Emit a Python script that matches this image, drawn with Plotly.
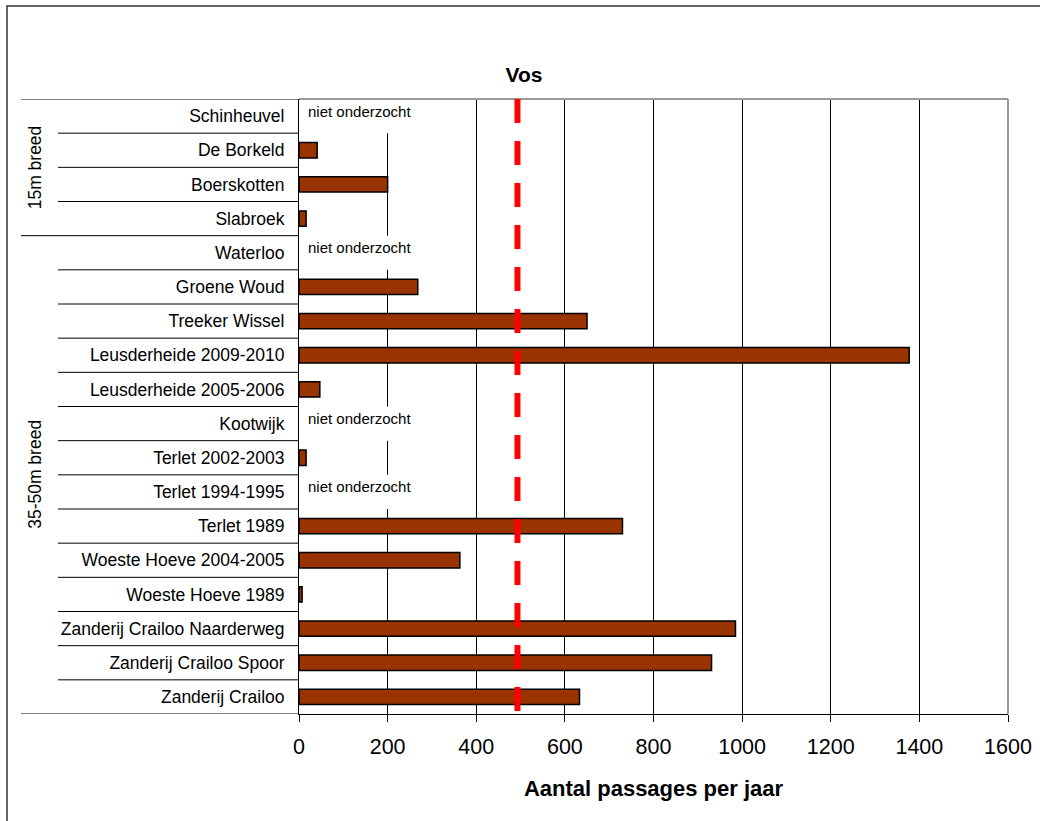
import plotly.graph_objects as go

categories = ["Schinheuvel", "De Borkeld", "Boerskotten", "Slabroek", "Waterloo",
              "Groene Woud", "Treeker Wissel", "Leusderheide 2009-2010",
              "Leusderheide 2005-2006", "Kootwijk", "Terlet 2002-2003",
              "Terlet 1994-1995", "Terlet 1989", "Woeste Hoeve 2004-2005",
              "Woeste Hoeve 1989", "Zanderij Crailoo Naarderweg",
              "Zanderij Crailoo Spoor", "Zanderij Crailoo"]
values = [None, 41, 200, 16, None, 268, 650, 1377, 47, None, 16, None, 730, 363, 7,
          985, 931, 633]
groups = ["15m breed"] * 4 + ["35-50m breed"] * 14
threshold = 493
missing_text = "niet onderzocht"
x_ticks = [0, 200, 400, 600, 800, 1000, 1200, 1400, 1600]

FONT = "Liberation Sans, Arial, sans-serif"
W, H = 1040, 821
ML, MR, MT, MB = 299, 32, 99, 107
PW, PH = W - ML - MR, H - MT - MB

def px_x(p):
    return (p - ML) / PW

def px_y(p):
    return (H - MB - p) / PH

n = len(categories)
fig = go.Figure()
fig.add_trace(go.Bar(
    y=categories, x=values, orientation="h", width=0.45,
    marker=dict(color="#993300", line=dict(color="#000000", width=1.5)),
    showlegend=False, hoverinfo="x+y",
))

shapes = []
annotations = []

# white boxes + labels for rows not studied
for i, (c, v) in enumerate(zip(categories, values)):
    if v is None:
        shapes.append(dict(type="rect", xref="x", yref="y", x0=1, x1=230,
                           y0=i - 0.5, y1=i + 0.5, fillcolor="white",
                           line=dict(width=0), layer="between"))
        annotations.append(dict(xref="x", yref="y", x=0, y=i, xanchor="left",
                                xshift=7, yshift=5, text=missing_text, showarrow=False,
                                font=dict(family=FONT, size=15, color="#000")))

# category separator lines in the label column
for i in range(n + 1):
    b = i - 0.5
    is_group = i == 0 or i == n or groups[i] != groups[i - 1]
    x0 = px_x(21) if is_group else px_x(58)
    shapes.append(dict(type="line", xref="paper", yref="y", x0=x0, x1=0,
                       y0=b, y1=b, line=dict(color="#000", width=1)))

# group labels
start = 0
for i in range(1, n + 1):
    if i == n or groups[i] != groups[start]:
        annotations.append(dict(xref="paper", yref="y", x=px_x(35),
                                y=(start + i - 1) / 2, text=groups[start],
                                xanchor="center", yanchor="middle",
                                textangle=-90, showarrow=False,
                                font=dict(family=FONT, size=17.5, color="#000")))
        start = i

# plot area top/right border (gray)
shapes.append(dict(type="line", xref="paper", yref="paper", x0=0, x1=1, y0=1, y1=1,
                   line=dict(color="#999999", width=2), layer="above"))
shapes.append(dict(type="line", xref="paper", yref="paper", x0=1, x1=1, y0=0, y1=1,
                   line=dict(color="#999999", width=2), layer="above"))

# threshold dashed red line
shapes.append(dict(type="line", xref="x", yref="paper", x0=threshold, x1=threshold,
                   y0=1, y1=0, line=dict(color="#FF0000", width=6, dash="24px,18px"),
                   layer="above"))

# outer frame
shapes.append(dict(type="rect", xref="paper", yref="paper",
                   x0=px_x(7), x1=px_x(1060), y0=px_y(840), y1=px_y(6),
                   line=dict(color="#333333", width=1.5), fillcolor="rgba(0,0,0,0)"))

fig.update_layout(
    width=W, height=H,
    margin=dict(l=ML, r=MR, t=MT, b=MB, autoexpand=False),
    paper_bgcolor="white", plot_bgcolor="white",
    font=dict(family=FONT, color="#000"),
    title=dict(text="<b>Vos</b>", x=524 / W, xanchor="center", y=1 - 75 / H,
               yanchor="middle", font=dict(family=FONT, size=21, color="#000")),
    xaxis=dict(range=[0, 1600], tickvals=x_ticks, showgrid=True, gridcolor="#000",
               gridwidth=1, showline=True, linecolor="#000", linewidth=1,
               ticks="outside", ticklen=7, tickcolor="#000", zeroline=False,
               tickfont=dict(family=FONT, size=21.5, color="#000"),
               ticklabelstandoff=6, automargin=False,
               title=dict(text="<b>Aantal passages per jaar</b>", standoff=22,
                          font=dict(family=FONT, size=22, color="#000"))),
    yaxis=dict(type="category", categoryorder="array", categoryarray=categories,
               range=[n - 0.5, -0.5], showgrid=False, showline=True,
               linecolor="#000", linewidth=1, ticks="", zeroline=False,
               ticklabelstandoff=10, automargin=False,
               tickfont=dict(family=FONT, size=17.5, color="#000")),
    shapes=shapes, annotations=annotations, bargap=0.55,
)

fig.write_html("out.html", config={"displayModeBar": False},
               post_script="document.body.style.margin='0';document.body.style.overflow='hidden';")
